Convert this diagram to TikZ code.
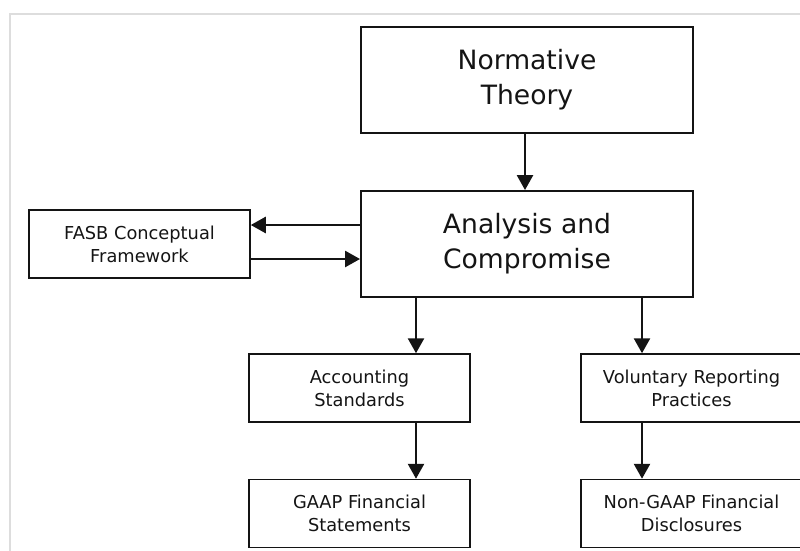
\documentclass[tikz,border=0pt]{standalone}
\usepackage{fontspec}
\setmainfont{DejaVu Sans}
\usetikzlibrary{arrows.meta}
\definecolor{ink}{HTML}{141414}
\definecolor{rule}{HTML}{DDDDDD}
\tikzset{
  bigbox/.style={draw=ink, line width=1.9pt, minimum width=332pt, minimum height=106pt, align=center, font=\fontsize{26.6}{35}\selectfont},
  smallbox/.style={draw=ink, line width=1.5pt, minimum width=221pt, minimum height=68pt, align=center, font=\fontsize{17.8}{23}\selectfont},
  arr/.style={draw=ink, line width=2.6pt, -{Triangle[length=15pt,width=16pt]}},
  frame/.style={draw=rule, line width=1.2pt},
  every node/.style={text=ink}
}
\begin{document}
\begin{tikzpicture}[x=1pt,y=-1pt]
  \useasboundingbox (0,0) rectangle (800,550);
  \draw[frame] (10,14) rectangle (812,562);

  \node[bigbox] (norm) at (527,80) {Normative\\Theory};
  \node[bigbox] (anal) at (527,244) {Analysis and\\Compromise};
  \node[smallbox] (fasb) at (139.5,244) {FASB Conceptual\\Framework};
  \node[smallbox] (acct) at (359.5,388) {Accounting\\Standards};
  \node[smallbox] (vol) at (691.5,388) {Voluntary Reporting\\Practices};
  \node[smallbox] (gaap) at (359.5,513.5) {GAAP Financial\\Statements};
  \node[smallbox] (ngaap) at (691.5,513.5) {Non-GAAP Financial\\Disclosures};

  \draw[arr] ([xshift=-2]norm.south) -- ([xshift=-2]anal.north);
  \draw[arr] ([yshift=19]anal.west) -- ([yshift=19]fasb.east);
  \draw[arr] ([yshift=-15]fasb.east) -- ([yshift=-15]anal.west);
  \draw[arr] ([xshift=56.5]acct.north |- anal.south) -- ([xshift=56.5]acct.north);
  \draw[arr] ([xshift=-49.5]vol.north |- anal.south) -- ([xshift=-49.5]vol.north);
  \draw[arr] ([xshift=56.5]acct.south) -- ([xshift=56.5]gaap.north);
  \draw[arr] ([xshift=-49.5]vol.south) -- ([xshift=-49.5]ngaap.north);
\end{tikzpicture}
\end{document}
